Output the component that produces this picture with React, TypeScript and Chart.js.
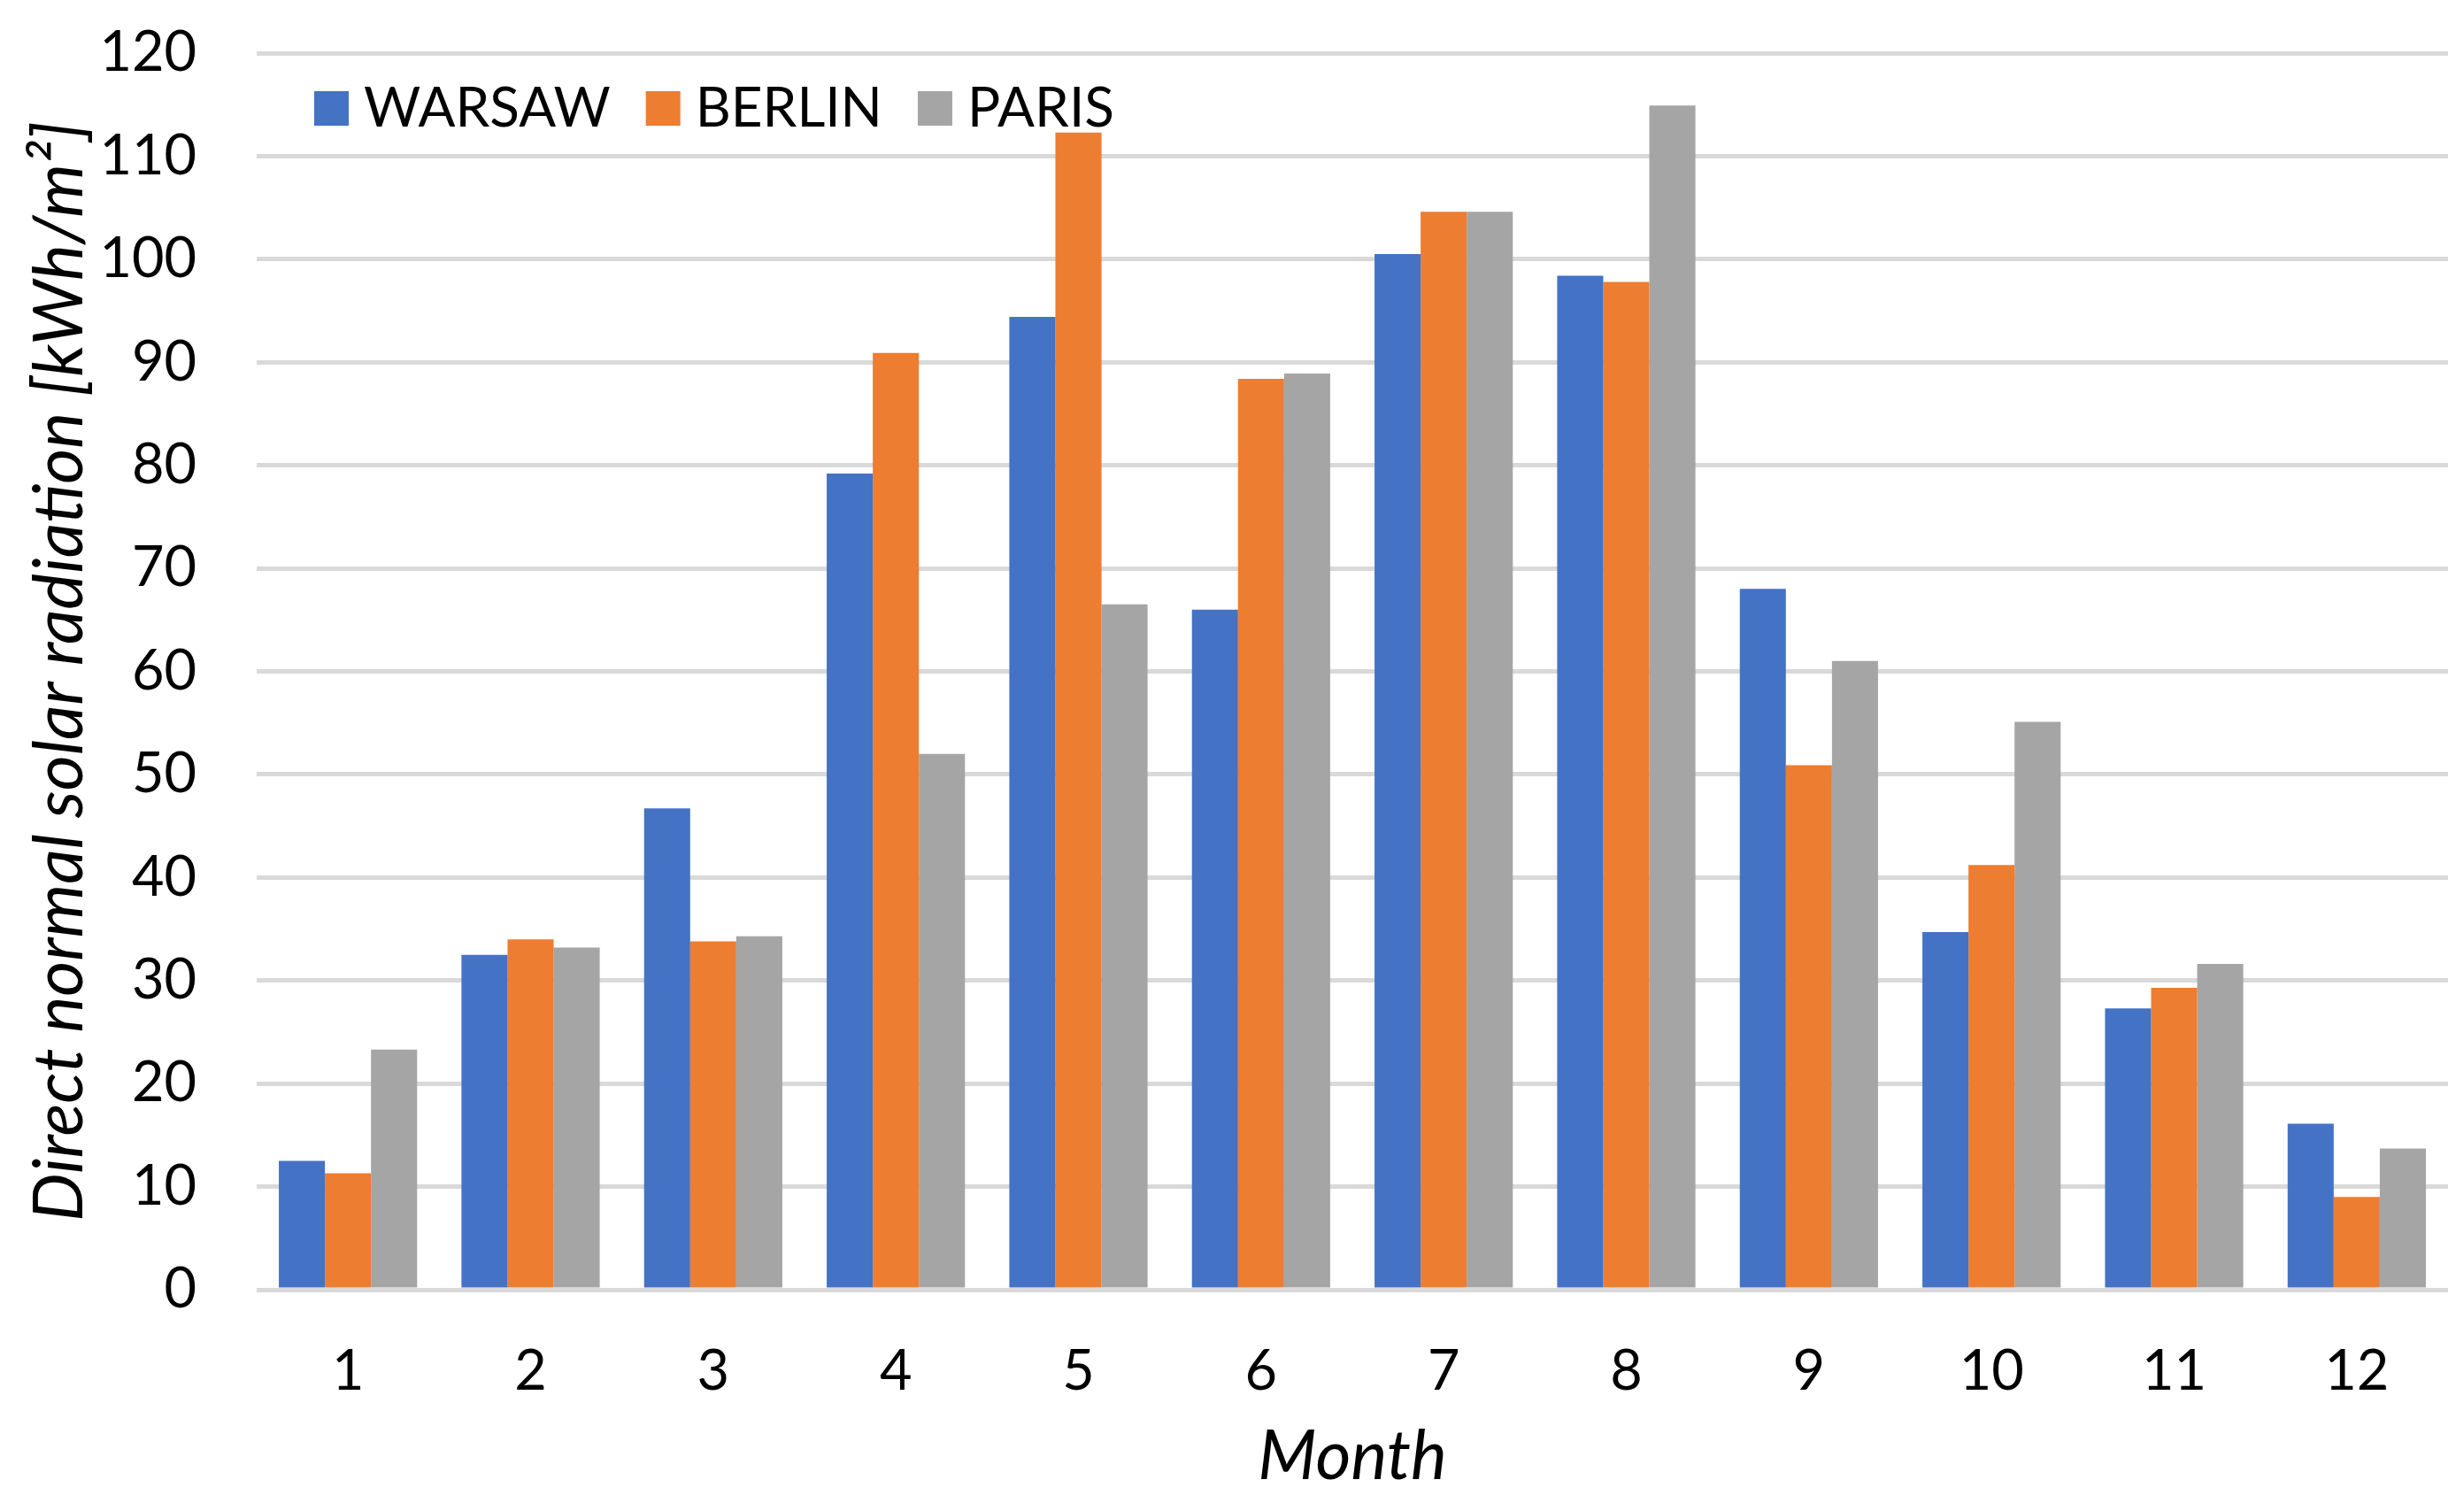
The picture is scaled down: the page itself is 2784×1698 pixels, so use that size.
import React, { useEffect, useRef } from "react";
import { Chart, registerables } from "chart.js";

Chart.register(...registerables);

const months = ["1", "2", "3", "4", "5", "6", "7", "8", "9", "10", "11", "12"];
const warsaw = [12.5, 32.5, 46.7, 79.2, 94.4, 66.0, 100.5, 98.4, 68.0, 34.7, 27.3, 16.1];
const berlin = [11.3, 34.0, 33.8, 90.9, 112.3, 88.4, 104.6, 97.8, 50.9, 41.2, 29.3, 9.0];
const paris = [23.3, 33.2, 34.3, 52.0, 66.5, 88.9, 104.6, 114.9, 61.0, 55.1, 31.6, 13.7];
const seriesNames = ["WARSAW", "BERLIN", "PARIS"];
const seriesColors = ["#4472C4", "#ED7D31", "#A5A5A5"];
const yMin = 0;
const yMax = 120;
const yStep = 10;
const xTitle = "Month";
const yTitle = "Direct normal solar radiation [kWh/m\u00B2]";

const FONT = "Lato, 'Open Sans', 'Noto Sans', sans-serif";

const insideLegend = {
  id: "insideLegend",
  afterDatasetsDraw(chart: any) {
    const ctx = chart.ctx;
    const { left, top } = chart.chartArea;
    ctx.save();
    ctx.font = `62px ${FONT}`;
    ctx.textBaseline = "alphabetic";
    ctx.textAlign = "left";
    const box = 39;
    let x = left + 65;
    const boxTop = top + 43;
    chart.data.datasets.forEach((ds: any) => {
      ctx.fillStyle = ds.backgroundColor;
      ctx.fillRect(x, boxTop, box, box);
      x += box + 17;
      ctx.fillStyle = "#000";
      ctx.fillText(ds.label, x, boxTop + box + 1);
      x += ctx.measureText(ds.label).width + 40;
    });
    ctx.restore();
  },
};

export default function App() {
  const ref = useRef<HTMLCanvasElement | null>(null);

  useEffect(() => {
    document.body.style.margin = "0";
    const canvas = ref.current;
    if (!canvas) return;
    const values = [warsaw, berlin, paris];
    const chart = new Chart(canvas, {
      type: "bar",
      data: {
        labels: months,
        datasets: seriesNames.map((name, i) => ({
          label: name,
          data: values[i],
          backgroundColor: seriesColors[i],
          borderWidth: 0,
          categoryPercentage: 0.757,
          barPercentage: 1,
        })),
      },
      options: {
        responsive: false,
        animation: false,
        layout: { padding: { top: 60, right: 18, bottom: 0, left: 0 } },
        plugins: {
          legend: { display: false },
          tooltip: { enabled: false },
        },
        scales: {
          x: {
            grid: { display: false, drawTicks: false },
            border: { display: false },
            ticks: {
              font: { family: FONT, size: 63 },
              color: "#000",
              padding: 55,
            },
            title: {
              display: true,
              text: xTitle,
              color: "#000",
              font: { family: FONT, size: 77, style: "italic" },
              padding: { top: 20, bottom: 6 },
            },
            afterFit: (s: any) => {
              s.height = 241;
            },
          },
          y: {
            min: yMin,
            max: yMax,
            grid: {
              color: "#D9D9D9",
              lineWidth: 5,
              drawTicks: true,
              tickLength: 68,
              tickColor: "rgba(0,0,0,0)",
            },
            border: { display: false },
            ticks: {
              stepSize: yStep,
              font: { family: FONT, size: 63 },
              color: "#000",
              padding: 0,
            },
            title: {
              display: true,
              text: yTitle,
              color: "#000",
              font: { family: FONT, size: 77, style: "italic" },
              padding: { top: 22, bottom: 0 },
            },
            afterFit: (s: any) => {
              s.width = 290;
            },
          },
        },
      } as any,
      plugins: [insideLegend],
    });
    return () => chart.destroy();
  }, []);

  return (
    <canvas
      ref={ref}
      width={2784}
      height={1698}
      style={{ display: "block", width: 2784, height: 1698, background: "#fff" }}
    />
  );
}
